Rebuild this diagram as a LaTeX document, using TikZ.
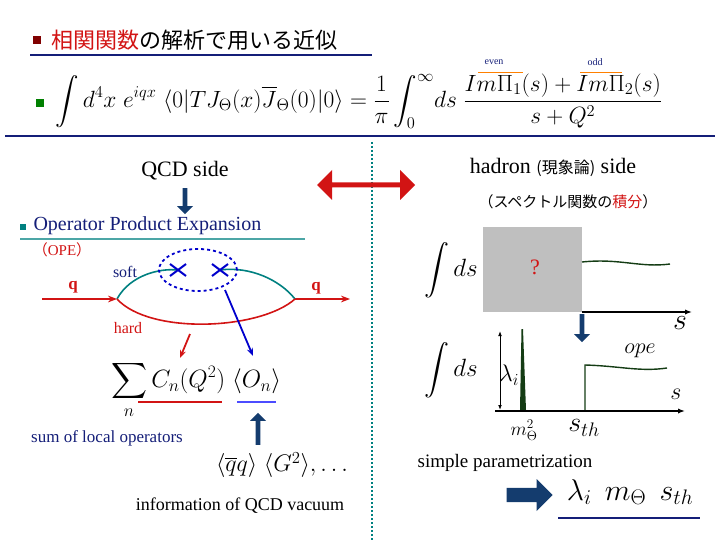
\RequirePackage{fix-cm}
\documentclass[tikz,border=0pt]{standalone}
\usepackage{amsmath,amssymb}
\usepackage{fontspec}
\setmainfont{Liberation Serif}
\newfontfamily\jpfont{Noto Sans CJK JP}
\usetikzlibrary{shapes.geometric,shapes.arrows,arrows.meta,positioning,calc}
\definecolor{navy}{RGB}{20,30,120}
\definecolor{darkteal}{RGB}{0,128,128}
\definecolor{bluearrow}{RGB}{20,60,110}
\definecolor{plotgreen}{RGB}{20,60,20}
\definecolor{hadred}{RGB}{210,20,20}
\tikzset{
  bullet/.style={fill=#1, minimum size=8pt, inner sep=0pt},
  blockdown/.style={single arrow, fill=bluearrow, draw=none, shape border rotate=270,
    minimum width=16pt, single arrow head extend=3pt, minimum height=26pt, inner sep=1pt},
  blockright/.style={single arrow, fill=bluearrow, draw=none,
    minimum width=32pt, single arrow head extend=4pt, minimum height=46pt, inner sep=3pt},
  qline/.style={hadred, line width=1.6pt},
  softline/.style={darkteal, line width=1.6pt},
  curve/.style={plotgreen, line width=1.4pt},
  axis/.style={line width=1.4pt, -{Latex[length=7pt]}}
}
\begin{document}
\begin{tikzpicture}[x=1pt,y=-1pt]
\useasboundingbox (0,0) rectangle (720,540);
% title
\node[bullet=red!50!black] (b1) at (37,40) {};
\node[anchor=west, font=\jpfont\fontsize{22}{24}\selectfont] (title) at (48,40)
  {\textcolor{hadred}{相関関数}の解析で用いる近似};
\draw[navy, line width=2pt] (30,55) -- (372,55);
% main formula
\node[bullet=green!50!black] (b2) at (40,103) {};
\node[font=\fontsize{23.5}{25}\selectfont, anchor=west] (eq) at (52,101)
  {$\displaystyle\int d^4x\; e^{iqx}\;\langle 0|TJ_\Theta(x)\overline{J}_\Theta(0)|0\rangle
   = \frac{1}{\pi}\int_0^\infty\! ds\; \frac{Im\Pi_1(s) + Im\Pi_2(s)}{s+Q^2}$};
\node[navy, font=\fontsize{10}{10}\selectfont] (even) at (494,62) {even};
\node[navy, font=\fontsize{10}{10}\selectfont] (odd) at (595,62) {odd};
\draw[orange, line width=1pt] (478,73) -- (523,73);
\draw[orange, line width=1pt] (580,73) -- (622,73);
\draw[navy, line width=2.2pt] (5,136) -- (715,136);
\draw[darkteal, line width=2pt, dotted] (372,142) -- (372,540);
% sides
\node[font=\fontsize{22}{24}\selectfont] (qcd) at (185,171) {QCD side};
\node[font=\fontsize{22}{24}\selectfont] (had) at (553,167) {hadron {\jpfont\fontsize{16}{18}\selectfont(現象論)} side};
\node[font=\jpfont\fontsize{15}{16}\selectfont] (spec) at (568,202) {（スペクトル関数の\textcolor{hadred}{積分}）};
\node[double arrow, fill=hadred, minimum width=30pt, minimum height=98pt,
  double arrow head extend=6pt, inner sep=1pt] (dbl) at (366,185) {};
\node[blockdown] (a1) at (185,200) {};
% OPE
\node[bullet=darkteal, minimum size=6pt] (b3) at (23,227) {};
\node[anchor=west, navy, font=\fontsize{20}{22}\selectfont] (ope) at (30,226) {Operator Product Expansion};
\draw[darkteal!70, line width=2pt] (20,239) -- (305,239);
\node[hadred, font=\fontsize{15}{16}\selectfont] (opeab) at (62,250) {{\jpfont（}OPE{\jpfont）}};
% diagram
\coordinate (qin) at (42,299);
\coordinate (lv) at (117,299);
\coordinate (rv) at (295,299);
\coordinate (qout) at (350,299);
\coordinate (x1) at (178,270);
\coordinate (x2) at (220,270);
\draw[qline, -{Stealth[length=9pt]}] (qin) -- (lv);
\draw[qline, -{Stealth[length=9pt]}] (rv) -- (qout);
\draw[softline] (lv) .. controls (130,275) and (160,268) .. (x1);
\draw[softline] (rv) .. controls (280,280) and (250,266) .. (x2);
\draw[qline] (lv) .. controls (150,335) and (260,330) .. (rv);
\node[draw=blue!80!black, dashed, line width=1.8pt, ellipse, minimum width=78pt, minimum height=42pt] (vac) at (198,270) {};
\foreach \p in {x1,x2}
  \draw[blue!80!black, line width=2pt] ($(\p)+(-8,-6)$) -- ($(\p)+(8,6)$) ($(\p)+(-8,6)$) -- ($(\p)+(8,-6)$);
\node[hadred, font=\bfseries\fontsize{17}{18}\selectfont] (q1) at (73,287) {q};
\node[hadred, font=\bfseries\fontsize{17}{18}\selectfont] (q2) at (316,288) {q};
\node[navy, font=\fontsize{16}{17}\selectfont] (soft) at (125,272) {soft};
\node[hadred, font=\fontsize{16}{17}\selectfont] (hard) at (128,328) {hard};
% expansion
\node[font=\fontsize{25}{26}\selectfont] (sum) at (196,390)
  {$\displaystyle\sum_n C_n(Q^2)\;\langle O_n\rangle$};
\coordinate (cn) at (180,358);
\coordinate (on) at (253,356);
\draw[hadred, line width=1.8pt, -{Stealth[length=8pt]}] (190,334) -- (cn);
\draw[blue!80!black, line width=1.8pt, -{Stealth[length=8pt]}] (225,290) -- (on);
\draw[hadred, line width=2.5pt] (138,402) -- (222,402);
\draw[blue!70, line width=2.5pt] (237,402) -- (276,402);
\node[navy, font=\fontsize{17}{18}\selectfont] (local) at (107,438) {sum of local operators};
\node[blockdown, shape border rotate=90, minimum height=32pt] (a2) at (258,430) {};
\node[font=\fontsize{24}{26}\selectfont] (cond) at (282,465) {$\langle\overline{q}q\rangle\;\langle G^2\rangle,\ldots$};
\node[font=\fontsize{18}{19}\selectfont] (info) at (240,506) {information of QCD vacuum};
% hadron side upper
\node[font=\fontsize{25}{26}\selectfont] (int1) at (451,270) {$\displaystyle\int ds$};
\fill[gray!50] (483,227) rectangle (582,312);
\node[hadred, font=\fontsize{22}{22}\selectfont] (qm) at (535,267) {?};
\draw[curve] (582,262) .. controls (620,258) and (640,268) .. (670,264);
\draw[axis] (582,312) -- (692,312);
\node[font=\fontsize{30}{30}\selectfont] (s1) at (680,323) {$s$};
\node[blockdown, minimum height=28pt] (a3) at (582,327) {};
% hadron side lower
\node[font=\fontsize{25}{26}\selectfont] (int2) at (451,370) {$\displaystyle\int ds$};
\draw[line width=1pt, {Latex[length=5pt]}-{Latex[length=5pt]}] (500,331) -- (500,410);
\node[font=\fontsize{24}{26}\selectfont] (lam) at (509,375) {$\lambda_i$};
\fill[plotgreen] (520,410) -- (521.5,329) -- (523,329) -- (526,410) -- cycle;
\draw[curve] (585,410) -- (585,365) .. controls (620,366) and (640,372) .. (667,368);
\draw[axis] (495,411) -- (685,411);
\node[font=\fontsize{24}{26}\selectfont] (s2) at (676,394) {$s$};
\node[font=\fontsize{22}{24}\selectfont] (opel) at (640,351) {$ope$};
\node[font=\fontsize{19}{20}\selectfont] (mth) at (524,430) {$m_\Theta^2$};
\node[font=\fontsize{28}{30}\selectfont] (sth) at (584,428) {$s_{th}$};
\node[font=\fontsize{19}{20}\selectfont] (simp) at (505,463) {simple parametrization};
\node[blockright] (a4) at (526,495) {};
\node[font=\fontsize{30}{32}\selectfont] (par) at (630,492) {$\lambda_i\;\, m_\Theta\;\, s_{th}$};
\draw[navy, line width=2pt] (558,518) -- (700,518);
\end{tikzpicture}
\end{document}
